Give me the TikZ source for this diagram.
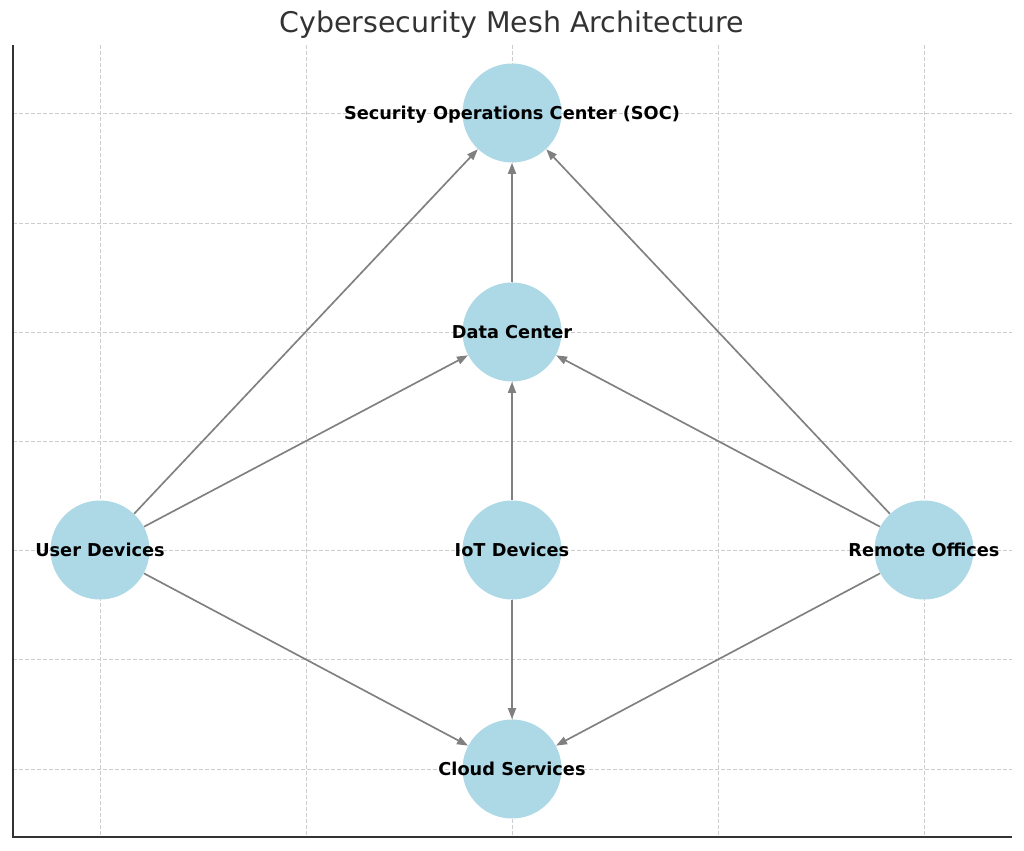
\documentclass[tikz,border=0pt]{standalone}
\usepackage{fontspec}
\setmainfont{DejaVu Sans}
\usetikzlibrary{arrows.meta}
\definecolor{nodeblue}{HTML}{ADD8E6}
\definecolor{edgegray}{HTML}{808080}
\definecolor{gridgray}{HTML}{CCCCCC}
\definecolor{spinegray}{HTML}{333333}
\begin{document}
\begin{tikzpicture}[x=0.02cm, y=-0.02cm,
    site/.style = {circle, fill=nodeblue, minimum size=1.98cm, inner sep=0pt},
    sitename/.style = {font=\fontsize{10.1}{12}\selectfont\bfseries, text=black, inner sep=0pt, text height=1.8ex, text depth=0.5ex},
    link/.style = {draw=edgegray, line width=0.95pt, -{Triangle[length=0.22cm, width=0.16cm]}},
    gridline/.style = {gridgray, line width=0.55pt, dash pattern=on 0.08cm off 0.04cm}]
    \useasboundingbox (0,0) rectangle (1024,851);
    % grid
    \foreach \gx in {100,306,512,718,924}
        \draw[gridline] (\gx,45) -- (\gx,837);
    \foreach \gy in {113,223,332,441,550,659,769}
        \draw[gridline] (13,\gy) -- (1012,\gy);
    \draw[spinegray, line width=1pt] (13,45) -- (13,837) -- (1012,837);
    \node[text=spinegray, font=\fontsize{16.2}{19}\selectfont] (title) at (512,25) {Cybersecurity Mesh Architecture};

    % sites
    \node[site] (soc) at (512,113) {};
    \node[site] (dc) at (512,332) {};
    \node[site] (user) at (100,550) {};
    \node[site] (iot) at (512,550) {};
    \node[site] (remote) at (924,550) {};
    \node[site] (cloud) at (512,769) {};

    % links
    \draw[link] (user) -- (soc);
    \draw[link] (user) -- (dc);
    \draw[link] (user) -- (cloud);
    \draw[link] (iot) -- (dc);
    \draw[link] (iot) -- (cloud);
    \draw[link] (remote) -- (soc);
    \draw[link] (remote) -- (dc);
    \draw[link] (remote) -- (cloud);
    \draw[link] (dc) -- (soc);

    \node[sitename] (socname) at (soc) {Security Operations Center (SOC)};
    \node[sitename] (dcname) at (dc) {Data Center};
    \node[sitename] (username) at (user) {User Devices};
    \node[sitename] (iotname) at (iot) {IoT Devices};
    \node[sitename] (remotename) at (remote) {Remote Offices};
    \node[sitename] (cloudname) at (cloud) {Cloud Services};
\end{tikzpicture}
\end{document}
